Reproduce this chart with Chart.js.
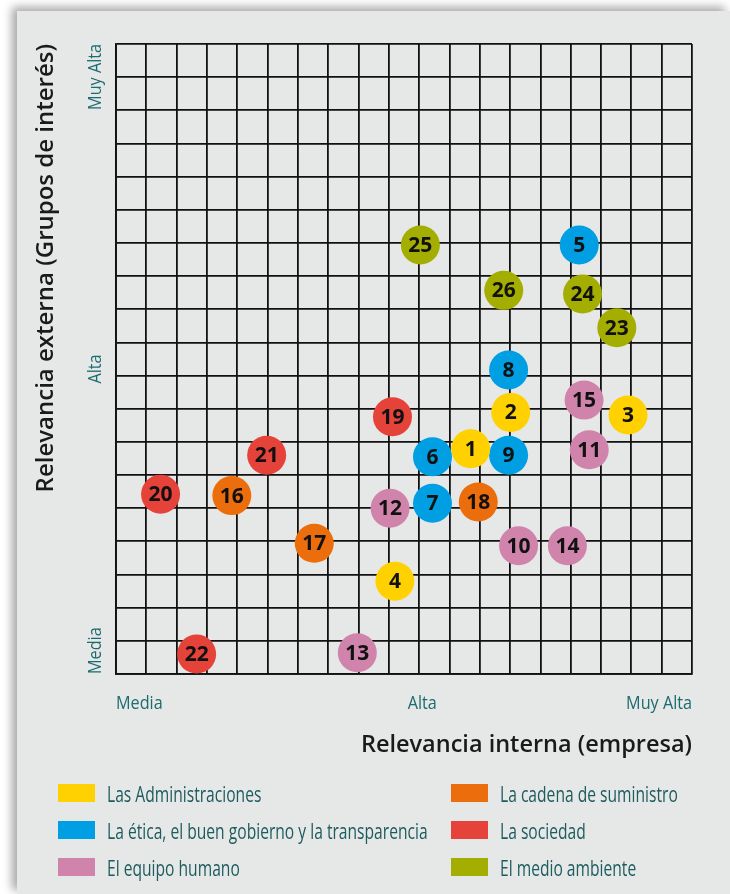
<!DOCTYPE html>
<html>
<head>
<meta charset="utf-8">
<script src="https://cdn.jsdelivr.net/npm/chart.js@4"></script>
<style>
  html, body { margin: 0; padding: 0; background: #ffffff; width: 730px; height: 894px; overflow: hidden; }
  #panel { position: absolute; left: 17px; top: 11px; width: 713px; height: 883px; background: #e6e8e7;
           box-shadow: -5px -4px 9px rgba(0, 0, 0, 0.35); }
  #wrap { position: absolute; left: 0; top: 0; width: 730px; height: 780px; }
  #legend { position: absolute; left: 58px; top: 784px; display: grid;
            grid-template-columns: 393px 240px; grid-template-rows: repeat(3, 37px); grid-auto-flow: column; }
  .item { display: flex; align-items: center; height: 18px; }
  .sw { width: 37px; height: 18px; flex: none; }
  .lab { margin-left: 12px; font-family: 'Open Sans', sans-serif; font-size: 22px; line-height: 18px; color: #1d5b5e;
         transform: scaleX(0.71); transform-origin: left center; white-space: nowrap; }
</style>
</head>
<body>
<div id="panel"></div>
<div id="wrap"><canvas id="matrix" width="730" height="780"></canvas></div>
<div id="legend"></div>
<script>
// Stakeholder groups and their colours
const categories = [
  'Las Administraciones',
  'La ética, el buen gobierno y la transparencia',
  'El equipo humano',
  'La cadena de suministro',
  'La sociedad',
  'El medio ambiente'
];
const categoryColors = ['#ffd100', '#009fe3', '#d084ab', '#ec6d0c', '#e5423a', '#a4ae00'];

// Material issues per group: number, internal relevance (x), external relevance (y)
const issueIds = [
  [1, 2, 3, 4],
  [5, 6, 7, 8, 9],
  [10, 11, 12, 13, 14, 15],
  [16, 17, 18],
  [19, 20, 21, 22],
  [23, 24, 25, 26]
];
const internalRelevance = [
  [11.70, 13.02, 16.89, 9.20],
  [15.28, 10.44, 10.44, 12.95, 12.95],
  [13.28, 15.61, 9.04, 7.96, 14.89, 15.44],
  [3.82, 6.54, 11.95],
  [9.12, 1.47, 4.97, 2.66],
  [16.52, 15.39, 10.04, 12.79]
];
const externalRelevance = [
  [6.79, 7.89, 7.81, 2.80],
  [12.94, 6.55, 5.15, 9.17, 6.60],
  [3.87, 6.76, 5.00, 0.64, 3.87, 8.26],
  [5.38, 3.94, 5.19],
  [7.76, 5.42, 6.60, 0.60],
  [10.44, 11.46, 12.94, 11.57]
];

// Relevance level labels along both axes
const tickLabels = ['Media', 'Alta', 'Muy Alta'];
const xTickValues = [0, 10.1, 19];
const yTickValues = [0, 9.2, 19];

const datasets = categories.map((name, i) => ({
  label: name,
  data: issueIds[i].map((id, j) => ({ x: internalRelevance[i][j], y: externalRelevance[i][j], id })),
  backgroundColor: categoryColors[i],
  borderWidth: 0,
  pointRadius: 19.5,
  pointHoverRadius: 19.5
}));

// Issue numbers inside each circle
const issueNumbers = {
  id: 'issueNumbers',
  afterDatasetsDraw(chart) {
    const { ctx } = chart;
    ctx.save();
    ctx.fillStyle = '#111111';
    ctx.font = '700 21px "Open Sans"';
    ctx.textAlign = 'center';
    ctx.textBaseline = 'middle';
    chart.data.datasets.forEach((ds, i) => {
      chart.getDatasetMeta(i).data.forEach((pt, j) => {
        ctx.fillText(String(ds.data[j].id), pt.x, pt.y + 1);
      });
    });
    ctx.restore();
  }
};

// Level labels: start, middle and end of each axis
const levelLabels = {
  id: 'levelLabels',
  afterDraw(chart) {
    const { ctx, chartArea, scales: { x, y } } = chart;
    const aligns = ['left', 'center', 'right'];
    ctx.save();
    ctx.fillStyle = '#1c6b6f';
    ctx.font = '18px "Open Sans"';
    ctx.textBaseline = 'middle';
    tickLabels.forEach((t, i) => {
      ctx.save();
      ctx.translate(x.getPixelForValue(xTickValues[i]), chartArea.bottom + 30);
      ctx.scale(0.9, 1);
      ctx.textAlign = aligns[i];
      ctx.fillText(t, 0, 0);
      ctx.restore();

      ctx.save();
      ctx.translate(chartArea.left - 20, y.getPixelForValue(yTickValues[i]));
      ctx.rotate(-Math.PI / 2);
      ctx.scale(0.9, 1);
      ctx.textAlign = aligns[i];
      ctx.fillText(t, 0, 0);
      ctx.restore();
    });
    ctx.restore();
  }
};

const gridStyle = { color: '#111111', lineWidth: 1.8, drawTicks: false };

new Chart(document.getElementById('matrix'), {
  type: 'scatter',
  data: { datasets },
  options: {
    responsive: false,
    animation: false,
    layout: { padding: { left: 0, top: 44, right: 38, bottom: 0 } },
    plugins: { legend: { display: false }, tooltip: { enabled: false } },
    scales: {
      x: {
        type: 'linear', min: 0, max: 19,
        ticks: { stepSize: 1, display: false },
        grid: gridStyle,
        border: { color: '#111111', width: 1.8 },
        title: { display: true, text: 'Relevancia interna (empresa)', align: 'end',
                 font: { family: 'Open Sans', size: 23.5, weight: 600 }, color: '#1a1a1a',
                 padding: { top: 0, bottom: 21 } },
        afterFit(scale) { scale.height = 106; }
      },
      y: {
        type: 'linear', min: 0, max: 19,
        ticks: { stepSize: 1, display: false },
        grid: gridStyle,
        border: { color: '#111111', width: 1.8 },
        title: { display: true, text: 'Relevancia externa (Grupos de interés)', align: 'end',
                 font: { family: 'Open Sans', size: 24, weight: 600 }, color: '#1a1a1a',
                 padding: { top: 31.5, bottom: 0 } },
        afterFit(scale) { scale.width = 116; }
      }
    }
  },
  plugins: [issueNumbers, levelLabels]
});

// Legend built from the same groups
const legend = document.getElementById('legend');
categories.forEach((name, i) => {
  const item = document.createElement('div');
  item.className = 'item';
  const sw = document.createElement('span');
  sw.className = 'sw';
  sw.style.background = categoryColors[i];
  const lab = document.createElement('span');
  lab.className = 'lab';
  lab.textContent = name;
  item.appendChild(sw);
  item.appendChild(lab);
  legend.appendChild(item);
});
</script>
</body>
</html>
